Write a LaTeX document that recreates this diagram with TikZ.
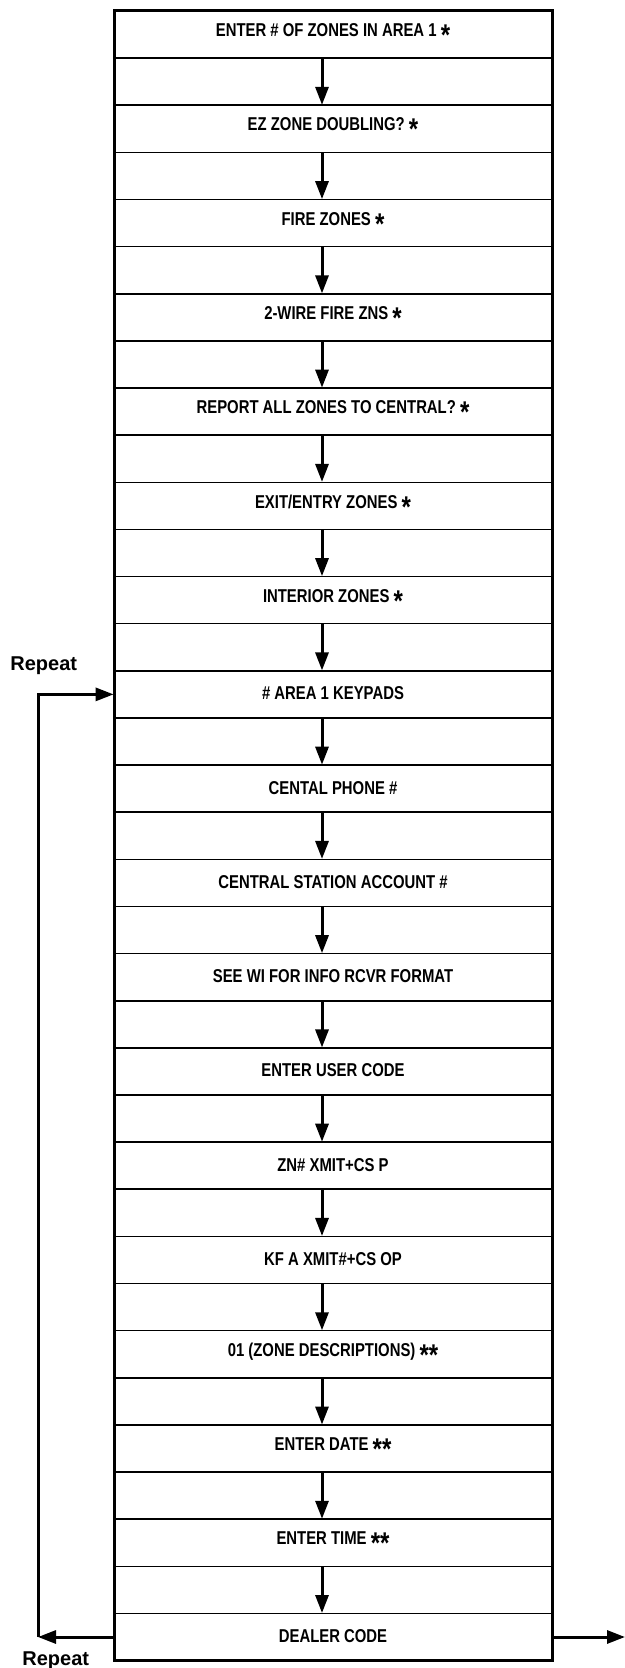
\documentclass[tikz,border=0pt]{standalone}
\usepackage{fontspec}
\setmainfont{Liberation Sans}
\newfontfamily\lcd[FakeStretch=0.8]{Liberation Sans}
\usetikzlibrary{arrows.meta}
\newcommand\mystar{\raisebox{-4.5pt}{\fontsize{15}{15}\selectfont *}}
\tikzset{
  rowbox/.style={minimum width=219pt, minimum height=23.565pt, inner sep=0pt, draw=none,
    font=\lcd\bfseries\fontsize{9.3}{10}\selectfont},
  divider/.style={line width=0.8pt},
  frame/.style={line width=1.5pt, line join=miter},
  arr/.style={line width=1.5pt, -{Triangle[length=9pt,width=6.5pt]}},
  rep/.style={font=\bfseries\fontsize{10}{12}\selectfont, inner sep=0pt, anchor=base west}
}
\begin{document}
\begin{tikzpicture}[x=0.5pt,y=-0.5pt]
\useasboundingbox (0,0) rectangle (625,1668);
\def\rh{47.13}
% dividers
\foreach \i in {1,...,34} {
  \draw[divider] (114,{11+\i*\rh}) -- (552,{11+\i*\rh});
}
% text rows
\foreach \t [count=\k from 0] in {
  ENTER \# OF ZONES IN AREA 1 \mystar,
  EZ ZONE DOUBLING? \mystar,
  FIRE ZONES \mystar,
  2-WIRE FIRE ZNS \mystar,
  REPORT ALL ZONES TO CENTRAL? \mystar,
  EXIT/ENTRY ZONES \mystar,
  INTERIOR ZONES \mystar,
  \# AREA 1 KEYPADS,
  CENTAL PHONE \#,
  CENTRAL STATION ACCOUNT \#,
  SEE WI FOR INFO RCVR FORMAT,
  ENTER USER CODE,
  ZN\# XMIT+CS P,
  KF A XMIT\#+CS OP,
  01 (ZONE DESCRIPTIONS) \mystar\mystar,
  ENTER DATE \mystar\mystar,
  ENTER TIME \mystar\mystar,
  DEALER CODE} {
  \node[rowbox] (r\k) at (333,{11+(2*\k+0.5)*\rh}) {\raisebox{1pt}{\t}};
}
% frame
\draw[frame] (114,11) rectangle (552,{11+35*\rh});
% down arrows
\coordinate (ax) at (322,0);
\foreach \k [evaluate=\k as \n using int(\k+1)] in {0,...,16} {
  \draw[arr] (r\k.south -| ax) -- (r\n.north -| ax);
}
% repeat loop
\coordinate (L) at (38,{11+34.5*\rh});
\coordinate (R) at (625,{11+34.5*\rh});
\draw[arr] (r17.west) -- (L);
\draw[arr, line join=miter] (L) |- (r7.west);
\draw[arr] (r17.east) -- (R);
\node[rep] (rep1) at (10,670) {Repeat};
\node[rep] (rep2) at (22,1665) {Repeat};
\end{tikzpicture}
\end{document}
